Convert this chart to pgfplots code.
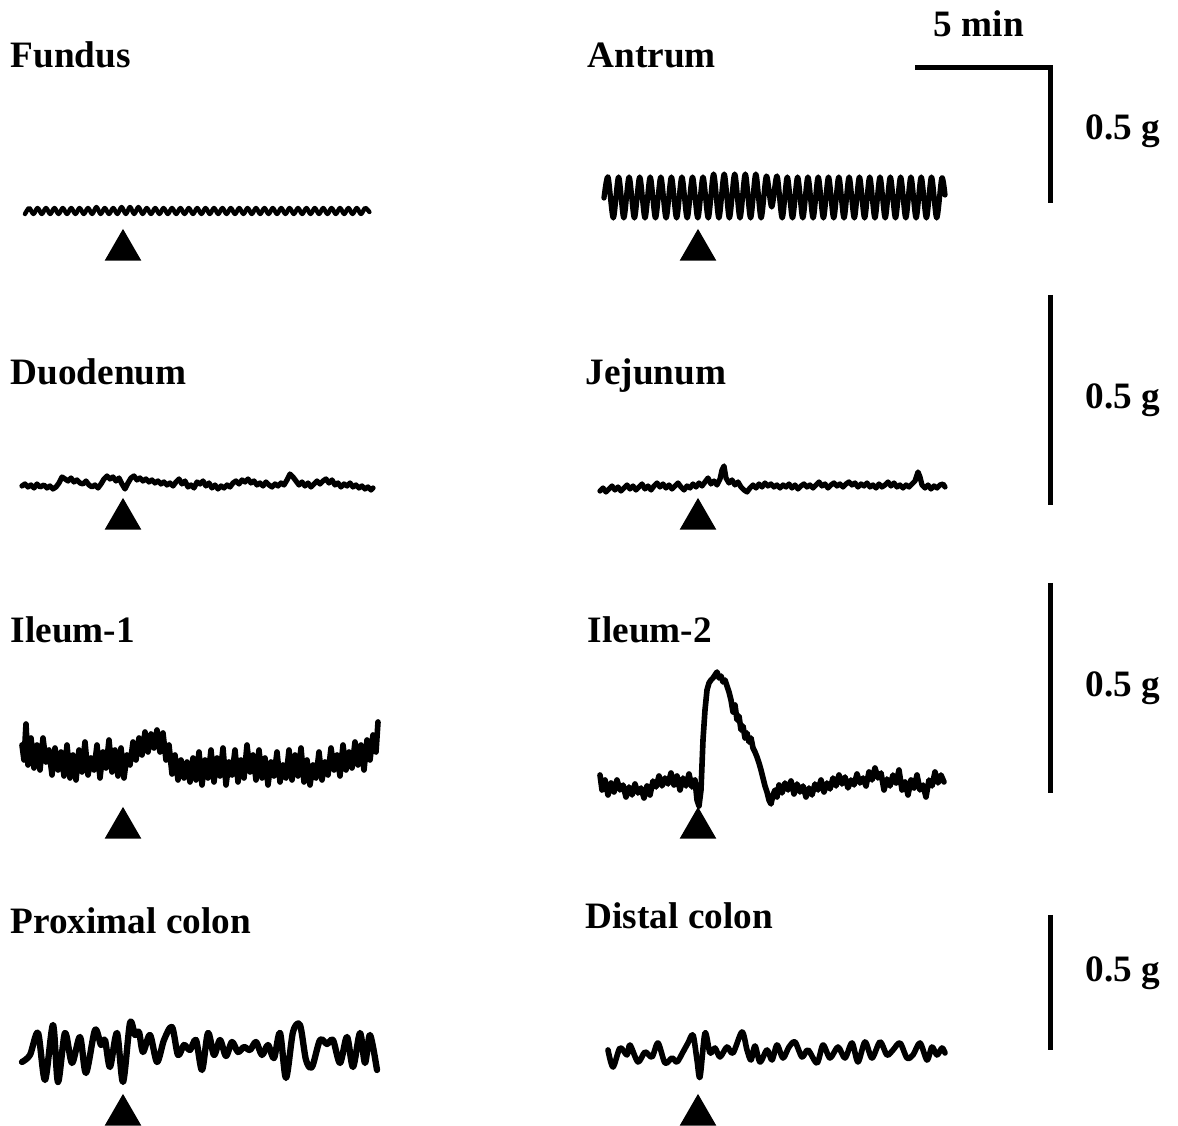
\documentclass[border=0pt]{standalone}
\usepackage{pgfplots}
\pgfplotsset{compat=1.18}
\usepackage{fontspec}
\setmainfont{Liberation Serif}
\tikzset{lbl/.style={font=\bfseries\fontsize{10.6}{12}\selectfont, inner sep=0pt, anchor=base west}}
\begin{document}
\begin{tikzpicture}
\begin{axis}[width=335.2pt, height=320.4pt, scale only axis,
  xmin=0, xmax=1178, ymin=0, ymax=1126, y dir=reverse,
  hide axis, clip=false,
  trace/.style={black, line width=1.5pt, line join=round, line cap=round, mark=none}]
\addplot[draw=none] coordinates {(0,0) (1178,1126)};
% labels
\node[lbl] at (axis cs:10,68) {Fundus};
\node[lbl] at (axis cs:587,68) {Antrum};
\node[lbl] at (axis cs:10,385) {Duodenum};
\node[lbl] at (axis cs:585,385) {Jejunum};
\node[lbl] at (axis cs:10,643) {Ileum-1};
\node[lbl] at (axis cs:587,643) {Ileum-2};
\node[lbl] at (axis cs:10,934) {Proximal colon};
\node[lbl] at (axis cs:585,929) {Distal colon};
\node[lbl] at (axis cs:933,37) {5 min};
\node[lbl] at (axis cs:1085,140) {0.5 g};
\node[lbl] at (axis cs:1085,409) {0.5 g};
\node[lbl] at (axis cs:1085,697) {0.5 g};
\node[lbl] at (axis cs:1085,982) {0.5 g};
% scale bars
\addplot[black, line width=1.42pt, mark=none] coordinates {(915,68) (1050,68) (1050,203)};
\addplot[black, line width=1.42pt, mark=none] coordinates {(1050,295) (1050,505)};
\addplot[black, line width=1.42pt, mark=none] coordinates {(1050,583) (1050,793)};
\addplot[black, line width=1.42pt, mark=none] coordinates {(1050,915) (1050,1050)};
% triangles
\addplot[only marks, mark=triangle*, mark size=5.6pt, black] coordinates {(123,250) (698,250) (123,519) (698,519) (123,828) (698,828) (123,1115) (698,1115)};
% Fundus
\addplot[trace, line width=1.25pt, smooth] coordinates {
(25.0,214) (29.2,208) (33.4,214) (37.6,208) (41.8,214) (46.0,208) (50.2,214) (54.4,208) (58.6,214) (62.8,208)
(67.0,214) (71.2,208) (75.4,214) (79.6,208) (83.8,214) (88.0,208) (92.2,214) (96.4,207) (100.6,214) (104.8,208)
(109.0,214) (113.2,208) (117.4,214) (121.6,207) (125.8,214) (130.0,207) (134.2,214) (138.4,207) (142.6,214) (146.8,208)
(151.0,214) (155.2,208) (159.4,214) (163.6,208) (167.8,214) (172.0,208) (176.2,214) (180.4,208) (184.6,214) (188.8,208)
(193.0,214) (197.2,208) (201.4,214) (205.6,208) (209.8,214) (214.0,208) (218.2,214) (222.4,208) (226.6,214) (230.8,208)
(235.0,214) (239.2,208) (243.4,214) (247.6,208) (251.8,214) (256.0,208) (260.2,214) (264.4,208) (268.6,214) (272.8,208)
(277.0,214) (281.2,208) (285.4,214) (289.6,208) (293.8,214) (298.0,208) (302.2,214) (306.4,208) (310.6,214) (314.8,208)
(319.0,214) (323.2,208) (327.4,214) (331.6,208) (335.8,214) (340.0,208) (344.2,214) (348.4,208) (352.6,214) (356.8,208)
(361.0,214) (365.2,208) (369.4,212)};
% Antrum
\addplot[trace, line width=1.5pt, smooth] coordinates {
(604,198) (608.0,177) (613.3,218) (618.6,177) (623.8,218) (629.1,177) (634.4,218) (639.7,177) (645.0,218) (650.2,177)
(655.5,218) (660.8,177) (666.1,218) (671.4,177) (676.6,218) (681.9,177) (687.2,218) (692.5,177) (697.8,218) (703.0,177)
(708.3,218) (713.6,174) (718.9,218) (724.2,174) (729.4,218) (734.7,174) (740.0,218) (745.3,174) (750.6,218) (755.8,174)
(761.1,218) (766.4,176) (771.7,207) (777.0,176) (782.2,218) (787.3,177) (792.5,218) (797.6,177) (802.8,218) (807.9,177)
(813.1,218) (818.2,177) (823.4,218) (828.5,177) (833.7,218) (838.8,177) (844.0,218) (849.1,177) (854.3,218) (859.4,177)
(864.6,218) (869.7,177) (874.9,218) (880.0,177) (885.2,218) (890.3,177) (895.5,218) (900.6,177) (905.8,218) (910.9,177)
(916.1,218) (921.2,177) (926.4,218) (931.5,177) (936.7,218) (941.8,178) (945,195)};
% Duodenum
\addplot[trace] coordinates {
(22,486) (25,484) (28,487) (31,485) (34,488) (37,484) (40,487) (44,485) (47,488) (50,486) (53,489) (56,487) (59,483) (62,477)
(65,479) (68,481) (71,478) (74,482) (77,480) (80,483) (83,484) (86,481) (89,485) (92,487) (95,485) (98,488) (101,484) (104,479)
(107,476) (110,479) (113,477) (116,481) (119,478) (122,484) (125,489) (128,483) (131,478) (134,476) (137,480) (140,478) (143,481)
(146,479) (149,482) (152,480) (155,483) (158,481) (161,484) (164,482) (167,485) (170,483) (173,486) (176,482) (179,479) (182,484)
(185,481) (188,487) (191,485) (194,488) (197,482) (200,484) (203,481) (206,486) (209,483) (212,488) (215,485) (218,489) (221,486)
(224,488) (227,485) (230,487) (233,483) (236,481) (239,484) (242,480) (245,482) (248,479) (251,483) (254,481) (257,485) (260,483)
(263,486) (266,482) (269,485) (272,487) (275,484) (278,486) (281,483) (284,485) (287,480) (290,474) (293,477) (296,481) (299,485)
(302,482) (305,486) (308,483) (311,487) (314,484) (317,481) (320,484) (323,481) (326,479) (329,483) (332,480) (335,485) (338,483)
(341,487) (344,484) (347,486) (350,483) (353,487) (356,485) (359,488) (362,486) (365,489) (368,487) (371,490) (373,488)};
% Jejunum
\addplot[trace] coordinates {
(600,491) (603,488) (606,492) (609,489) (612,486) (615,490) (618,487) (621,491) (624,488) (627,485) (630,489) (633,486) (636,490)
(639,487) (642,484) (645,489) (648,486) (651,490) (654,486) (657,483) (660,487) (663,484) (666,488) (669,485) (672,489) (675,486)
(678,483) (681,487) (684,490) (687,486) (690,488) (693,484) (696,487) (699,483) (702,486) (705,482) (708,478) (711,484) (714,481)
(717,485) (720,479) (722,470) (724,466) (726,478) (729,483) (732,480) (735,485) (738,482) (741,487) (744,490) (747,492) (750,488)
(753,485) (756,488) (759,484) (762,487) (765,483) (768,486) (771,484) (774,487) (777,485) (780,488) (783,485) (786,487) (789,484)
(792,488) (795,485) (798,489) (801,486) (804,484) (807,487) (810,485) (813,488) (816,485) (819,482) (822,486) (825,484) (828,488)
(831,485) (834,483) (837,486) (840,484) (843,487) (846,484) (849,482) (852,485) (855,483) (858,487) (861,484) (864,486) (867,483)
(870,487) (873,485) (876,488) (879,484) (882,487) (885,485) (888,482) (891,486) (894,483) (897,487) (900,485) (903,488) (906,485)
(909,487) (912,484) (915,481) (918,472) (920,477) (922,485) (925,488) (928,485) (931,489) (934,486) (937,488) (940,485) (943,484)
(945,487)};
% Ileum-1
\addplot[trace, line width=1.6pt] coordinates {
(22,745) (24,760) (26,724) (28,765) (31,738) (34,768) (37,745) (40,770) (43,738) (46,762) (49,750) (52,775) (55,748) (58,770)
(61,752) (64,776) (67,745) (70,778) (73,755) (76,780) (79,750) (82,772) (85,742) (88,775) (91,758) (94,770) (97,745) (100,778)
(103,752) (106,768) (109,740) (112,772) (115,750) (118,776) (121,748) (124,778) (127,755) (130,765) (133,742) (136,760) (139,738)
(142,755) (145,732) (148,752) (151,734) (154,748) (157,730) (160,752) (163,733) (166,760) (169,745) (172,774) (175,755) (178,780)
(181,760) (184,778) (187,762) (190,782) (193,758) (196,780) (199,752) (202,785) (205,760) (208,778) (211,750) (214,782) (217,758)
(220,776) (223,748) (226,785) (229,762) (232,775) (235,750) (238,782) (241,760) (244,778) (247,745) (250,772) (253,755) (256,780)
(259,750) (262,778) (265,758) (268,785) (271,762) (274,776) (277,752) (280,782) (283,765) (286,778) (289,750) (292,780) (295,755)
(298,776) (301,748) (304,782) (307,760) (310,785) (313,765) (316,778) (319,752) (322,780) (325,762) (328,775) (331,748) (334,770)
(337,755) (340,776) (343,745) (346,770) (349,752) (352,768) (355,742) (358,765) (361,745) (364,770) (367,740) (370,760) (373,735)
(376,752) (378,722)};
% Ileum-2
\addplot[trace, line width=1.6pt] coordinates {
(600,775) (602,790) (605,780) (608,795) (611,783) (614,792) (617,780) (620,790) (623,785) (626,797) (629,787) (632,795) (635,784)
(638,793) (641,788) (644,798) (647,786) (650,795) (653,781) (656,787) (659,776) (662,786) (665,778) (668,784) (671,773) (674,785)
(677,776) (680,790) (683,778) (686,786) (689,774) (692,787) (695,780) (697,800) (699,806) (701,790) (703,740) (705,710) (707,690)
(709,683) (711,680) (713,678) (715,675) (717,672) (719,678) (721,676) (723,682) (725,680) (727,686) (729,692) (731,700) (733,712)
(735,705) (737,720) (739,716) (741,730) (743,726) (745,738) (747,733) (749,742) (751,738) (753,748) (755,752) (757,757) (759,763)
(761,770) (763,778) (765,786) (767,792) (769,800) (771,804) (773,795) (775,790) (777,797) (779,785) (782,793) (785,783) (788,790)
(791,781) (794,794) (797,784) (800,792) (803,786) (806,797) (809,788) (812,795) (815,784) (818,790) (821,780) (824,792) (827,783)
(830,789) (833,778) (836,786) (839,775) (842,784) (845,777) (848,788) (851,780) (854,785) (857,774) (860,783) (863,778) (866,786)
(869,772) (872,780) (875,768) (878,778) (881,773) (884,790) (887,779) (890,786) (893,775) (896,783) (899,770) (902,790) (905,782)
(908,795) (911,780) (914,788) (917,775) (920,790) (923,785) (926,797) (929,780) (932,786) (935,772) (938,783) (941,775) (944,782)};
% Proximal colon
\addplot[trace, line width=1.8pt, smooth] coordinates {
(22,1062) (30,1055) (38,1033) (45,1080) (53,1025) (58,1082) (65,1033) (72,1063) (80,1037) (86,1073) (95,1030) (101,1045)
(105,1040) (110,1067) (117,1033) (123,1082) (130,1023) (135,1035) (139,1032) (143,1052) (150,1035) (157,1062) (164,1040)
(172,1027) (178,1055) (184,1045) (190,1050) (196,1040) (202,1070) (208,1033) (214,1055) (220,1040) (226,1056) (232,1042)
(238,1052) (244,1047) (250,1050) (256,1042) (262,1055) (268,1045) (274,1058) (280,1033) (286,1078) (293,1032) (300,1025)
(306,1060) (312,1067) (320,1040) (327,1044) (333,1040) (340,1063) (347,1037) (353,1067) (360,1033) (365,1063) (370,1035)
(377,1070)};
% Distal colon
\addplot[trace, line width=1.6pt, smooth] coordinates {
(608,1050) (613,1067) (620,1048) (627,1055) (630,1045) (638,1062) (645,1052) (652,1057) (658,1043) (665,1063) (672,1058)
(677,1062) (683,1052) (688,1043) (693,1035) (697,1060) (700,1077) (705,1033) (710,1053) (715,1048) (720,1057) (727,1047)
(733,1053) (742,1032) (747,1050) (751,1060) (755,1046) (760,1062) (767,1050) (772,1060) (777,1045) (783,1058) (789,1047)
(795,1042) (802,1057)
(808,1050) (817,1063) (823,1045) (830,1058) (838,1047) (845,1058) (852,1043) (858,1062) (865,1042) (872,1058) (880,1042)
(887,1055) (893,1050) (900,1043) (907,1058) (913,1055) (920,1043) (927,1060) (932,1047) (937,1055) (942,1048) (945,1053)};
\end{axis}
\end{tikzpicture}
\end{document}
